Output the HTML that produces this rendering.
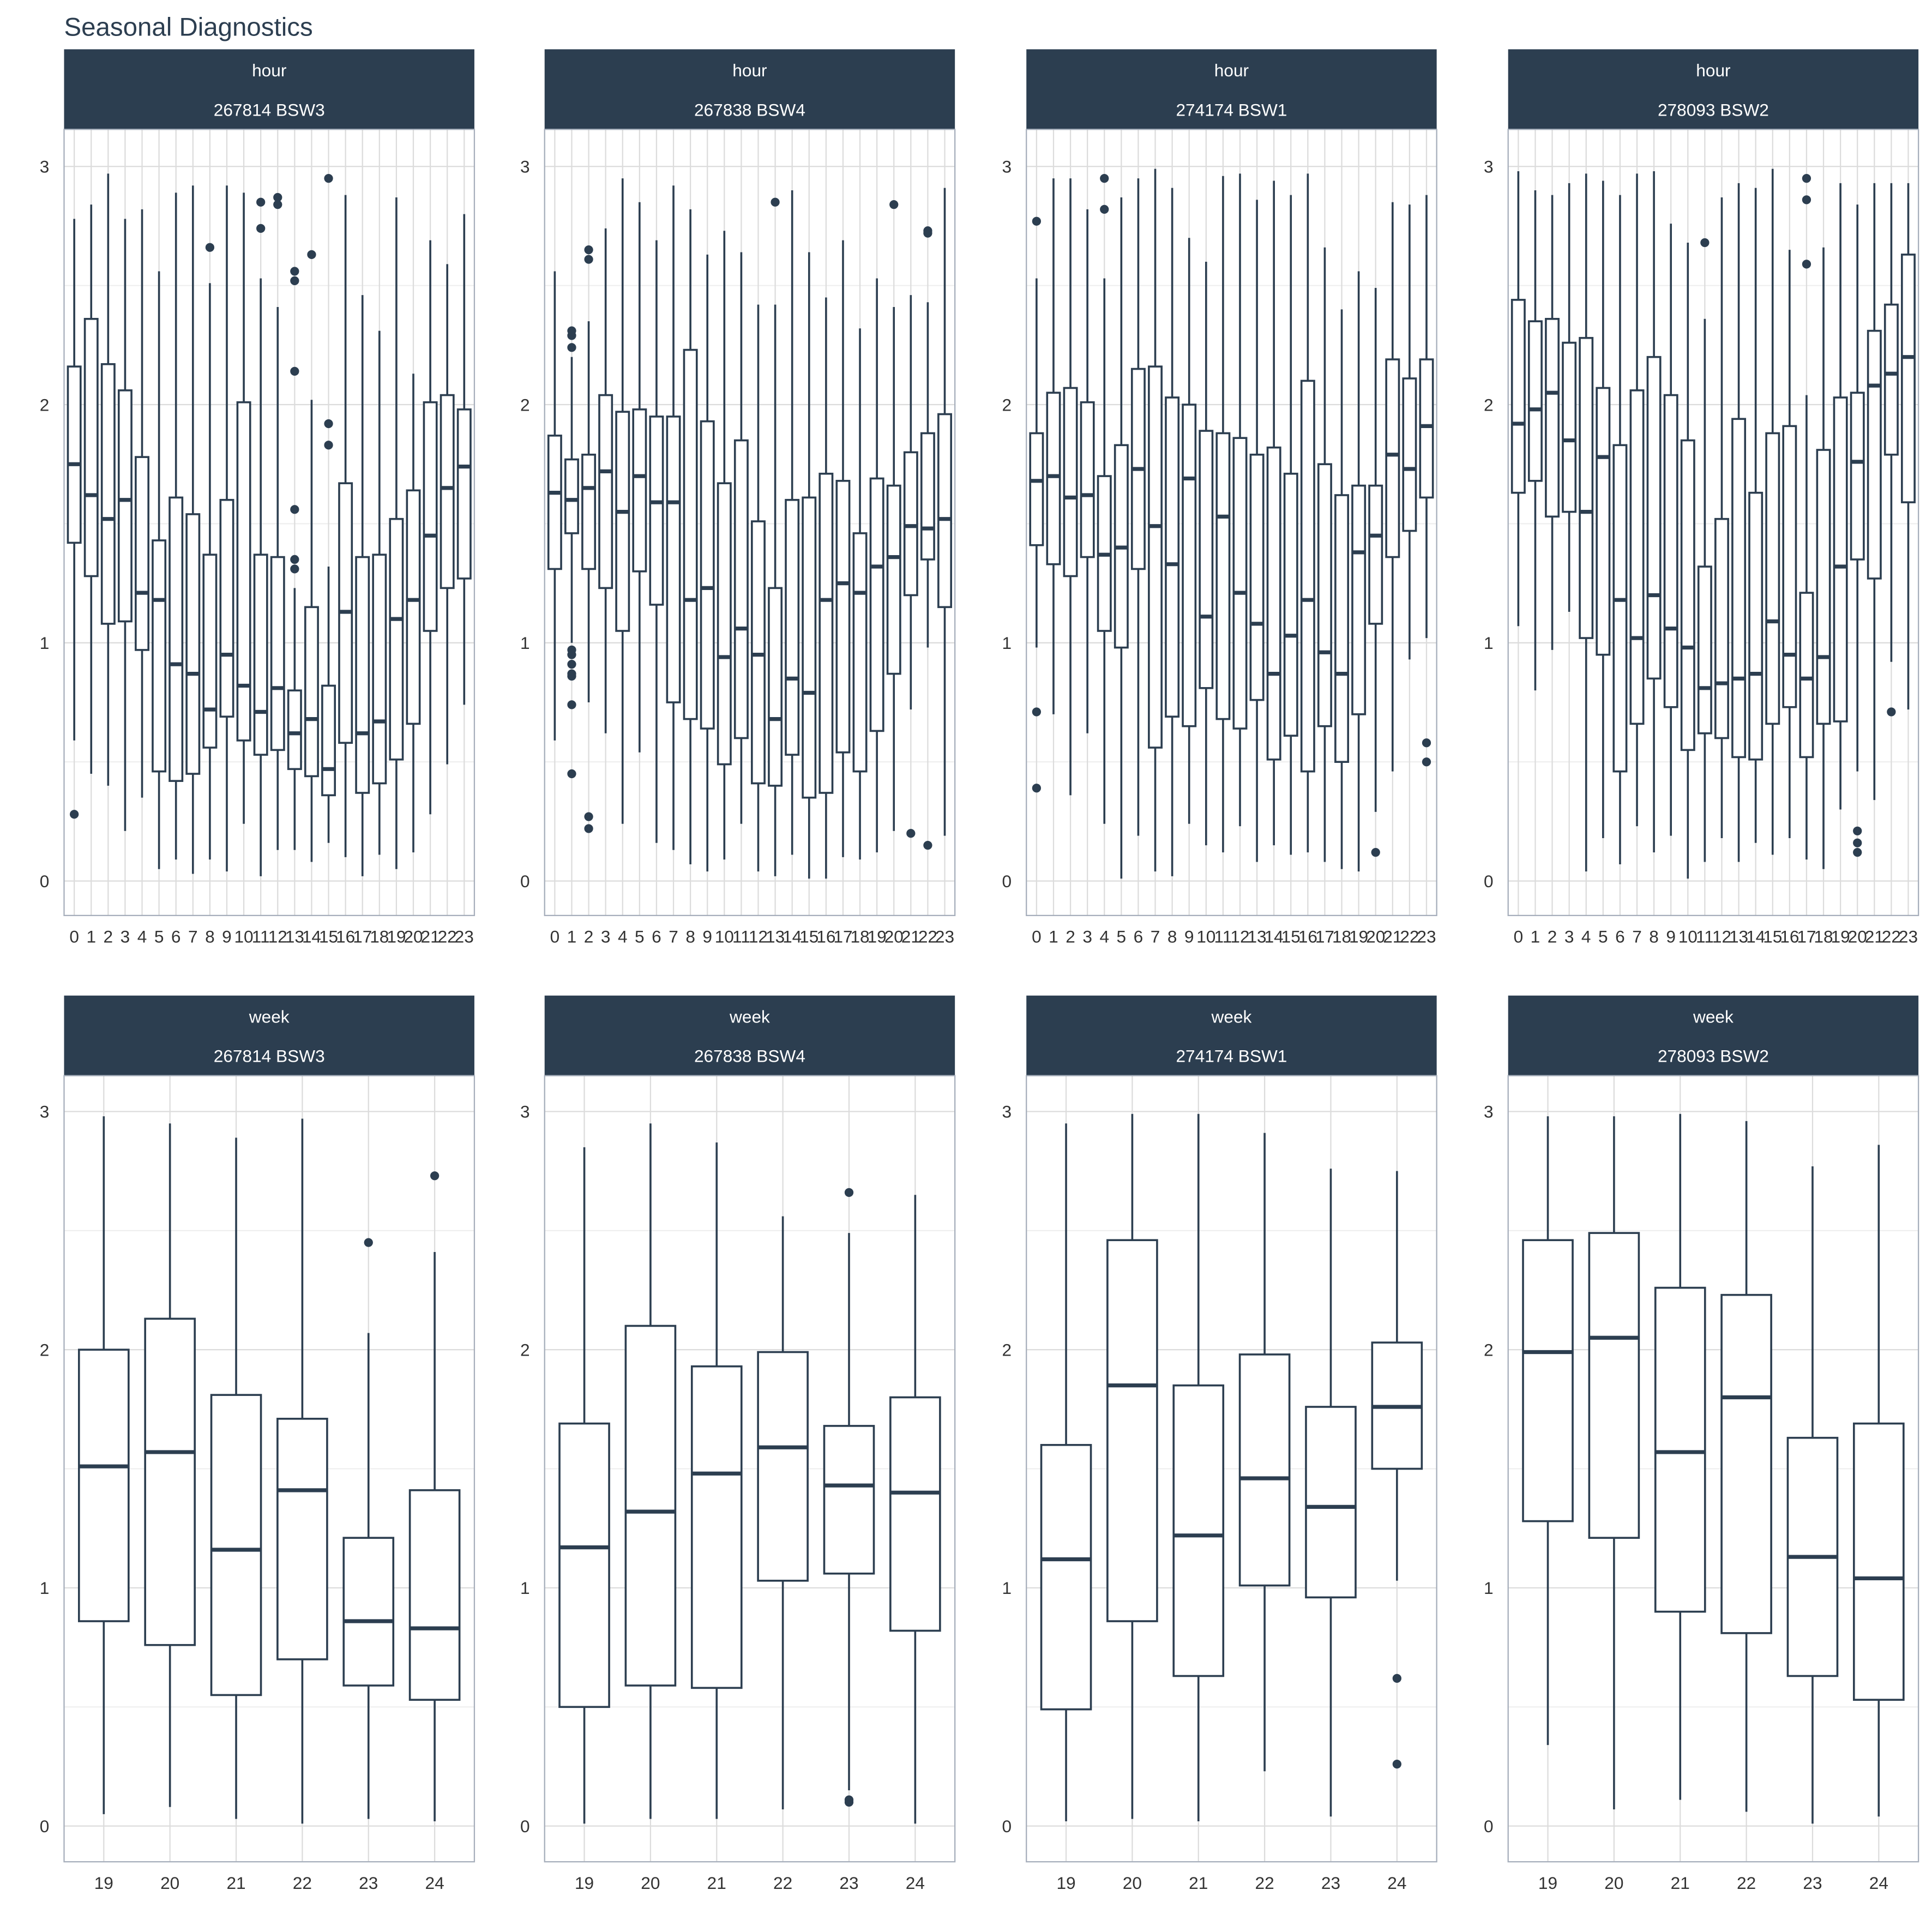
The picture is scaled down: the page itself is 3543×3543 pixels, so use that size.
<!DOCTYPE html>
<html><head><meta charset="utf-8"><style>
html,body{margin:0;padding:0;background:#fff;}
svg{display:block;font-family:"Liberation Sans",sans-serif;}
</style></head><body>
<svg id="chart" width="3543" height="3543" viewBox="0 0 1568 1568" xmlns="http://www.w3.org/2000/svg">
<text x="52" y="29" font-size="21" fill="#2c3e50">Seasonal Diagnostics</text>
</svg>
<script>
const panelTitles = ["267814 BSW3","267838 BSW4","274174 BSW1","278093 BSW2"];
const hourCats = ["0","1","2","3","4","5","6","7","8","9","10","11","12","13","14","15","16","17","18","19","20","21","22","23"];
const weekCats = ["19","20","21","22","23","24"];
const yTicks = [0,1,2,3];

const hourLo = [
[0.59,0.45,0.40,0.21,0.35,0.05,0.09,0.03,0.09,0.04,0.24,0.02,0.13,0.13,0.08,0.16,0.10,0.02,0.11,0.05,0.12,0.28,0.49,0.74],
[0.59,1.00,0.75,0.62,0.24,0.54,0.16,0.13,0.07,0.04,0.09,0.24,0.04,0.02,0.11,0.01,0.01,0.10,0.09,0.12,0.21,0.72,0.98,0.19],
[0.98,0.70,0.36,0.62,0.24,0.01,0.19,0.04,0.02,0.24,0.15,0.12,0.23,0.08,0.15,0.11,0.12,0.08,0.05,0.04,0.29,0.46,0.93,1.02],
[1.07,0.80,0.97,1.13,0.04,0.18,0.07,0.23,0.12,0.19,0.01,0.08,0.18,0.08,0.16,0.11,0.18,0.09,0.05,0.30,0.46,0.34,0.92,0.72]];
const hourQ1 = [
[1.42,1.28,1.08,1.09,0.97,0.46,0.42,0.45,0.56,0.69,0.59,0.53,0.55,0.47,0.44,0.36,0.58,0.37,0.41,0.51,0.66,1.05,1.23,1.27],
[1.31,1.46,1.31,1.23,1.05,1.30,1.16,0.75,0.68,0.64,0.49,0.60,0.41,0.40,0.53,0.35,0.37,0.54,0.46,0.63,0.87,1.20,1.35,1.15],
[1.41,1.33,1.28,1.36,1.05,0.98,1.31,0.56,0.69,0.65,0.81,0.68,0.64,0.76,0.51,0.61,0.46,0.65,0.50,0.70,1.08,1.36,1.47,1.61],
[1.63,1.68,1.53,1.55,1.02,0.95,0.46,0.66,0.85,0.73,0.55,0.62,0.60,0.52,0.51,0.66,0.73,0.52,0.66,0.67,1.35,1.27,1.79,1.59]];
const hourMed = [
[1.75,1.62,1.52,1.60,1.21,1.18,0.91,0.87,0.72,0.95,0.82,0.71,0.81,0.62,0.68,0.47,1.13,0.62,0.67,1.10,1.18,1.45,1.65,1.74],
[1.63,1.60,1.65,1.72,1.55,1.70,1.59,1.59,1.18,1.23,0.94,1.06,0.95,0.68,0.85,0.79,1.18,1.25,1.21,1.32,1.36,1.49,1.48,1.52],
[1.68,1.70,1.61,1.62,1.37,1.40,1.73,1.49,1.33,1.69,1.11,1.53,1.21,1.08,0.87,1.03,1.18,0.96,0.87,1.38,1.45,1.79,1.73,1.91],
[1.92,1.98,2.05,1.85,1.55,1.78,1.18,1.02,1.20,1.06,0.98,0.81,0.83,0.85,0.87,1.09,0.95,0.85,0.94,1.32,1.76,2.08,2.13,2.20]];
const hourQ3 = [
[2.16,2.36,2.17,2.06,1.78,1.43,1.61,1.54,1.37,1.60,2.01,1.37,1.36,0.80,1.15,0.82,1.67,1.36,1.37,1.52,1.64,2.01,2.04,1.98],
[1.87,1.77,1.79,2.04,1.97,1.98,1.95,1.95,2.23,1.93,1.67,1.85,1.51,1.23,1.60,1.61,1.71,1.68,1.46,1.69,1.66,1.80,1.88,1.96],
[1.88,2.05,2.07,2.01,1.70,1.83,2.15,2.16,2.03,2.00,1.89,1.88,1.86,1.79,1.82,1.71,2.10,1.75,1.62,1.66,1.66,2.19,2.11,2.19],
[2.44,2.35,2.36,2.26,2.28,2.07,1.83,2.06,2.20,2.04,1.85,1.32,1.52,1.94,1.63,1.88,1.91,1.21,1.81,2.03,2.05,2.31,2.42,2.63]];
const hourHi = [
[2.78,2.84,2.97,2.78,2.82,2.56,2.89,2.92,2.51,2.92,2.89,2.53,2.41,1.23,2.02,1.32,2.88,2.46,2.31,2.87,2.13,2.69,2.59,2.80],
[2.56,2.20,2.35,2.74,2.95,2.85,2.69,2.92,2.82,2.63,2.73,2.64,2.42,2.42,2.90,2.64,2.45,2.69,2.32,2.53,2.41,2.46,2.43,2.91],
[2.53,2.95,2.95,2.82,2.53,2.87,2.95,2.99,2.91,2.70,2.60,2.96,2.97,2.86,2.94,2.88,2.97,2.66,2.40,2.56,2.49,2.85,2.84,2.88],
[2.98,2.90,2.88,2.93,2.97,2.94,2.88,2.97,2.98,2.76,2.68,2.36,2.87,2.93,2.91,2.99,2.65,2.04,2.66,2.93,2.84,2.93,2.93,2.93]];
const hourOut = [
[[0,0.28],[8,2.66],[11,2.85],[11,2.74],[12,2.87],[12,2.84],[13,2.56],[13,2.52],[13,2.14],[13,1.56],[13,1.35],[13,1.31],[14,2.63],[15,2.95],[15,1.92],[15,1.83]],
[[1,2.31],[1,2.29],[1,2.24],[1,0.97],[1,0.95],[1,0.91],[1,0.87],[1,0.86],[1,0.74],[1,0.45],[2,2.65],[2,2.61],[2,0.27],[2,0.22],[13,2.85],[20,2.84],[21,0.20],[22,2.73],[22,2.72],[22,0.15]],
[[0,2.77],[0,0.71],[0,0.39],[4,2.95],[4,2.82],[20,0.12],[23,0.58],[23,0.50]],
[[11,2.68],[17,2.95],[17,2.86],[17,2.59],[20,0.21],[20,0.16],[20,0.12],[22,0.71]]];

const weekLo = [[0.05,0.08,0.03,0.01,0.03,0.02],[0.01,0.03,0.03,0.07,0.15,0.01],[0.02,0.03,0.02,0.23,0.04,1.03],[0.34,0.07,0.11,0.06,0.01,0.04]];
const weekQ1 = [[0.86,0.76,0.55,0.70,0.59,0.53],[0.50,0.59,0.58,1.03,1.06,0.82],[0.49,0.86,0.63,1.01,0.96,1.50],[1.28,1.21,0.90,0.81,0.63,0.53]];
const weekMed = [[1.51,1.57,1.16,1.41,0.86,0.83],[1.17,1.32,1.48,1.59,1.43,1.40],[1.12,1.85,1.22,1.46,1.34,1.76],[1.99,2.05,1.57,1.80,1.13,1.04]];
const weekQ3 = [[2.00,2.13,1.81,1.71,1.21,1.41],[1.69,2.10,1.93,1.99,1.68,1.80],[1.60,2.46,1.85,1.98,1.76,2.03],[2.46,2.49,2.26,2.23,1.63,1.69]];
const weekHi = [[2.98,2.95,2.89,2.97,2.07,2.41],[2.85,2.95,2.87,2.56,2.49,2.65],[2.95,2.99,2.99,2.91,2.76,2.75],[2.98,2.98,2.99,2.96,2.77,2.86]];
const weekOut = [[[4,2.45],[5,2.73]],[[4,2.66],[4,0.11],[4,0.10]],[[5,0.62],[5,0.26]],[]];

const NS = "http://www.w3.org/2000/svg";
const svg = document.getElementById('chart');
const COL = "#2c3e50";
const panelX = [52,442,833,1224];
const panelW = 333;

function mk(tag, attrs, parent){
  const e = document.createElementNS(NS, tag);
  for (const k in attrs) e.setAttribute(k, attrs[k]);
  (parent||svg).appendChild(e);
  return e;
}

function drawPanel(pi, row){
  const x0 = panelX[pi];
  const stripTop = row===0 ? 40 : 808;
  const top = stripTop + 65, bot = top + 638;
  const y0 = row===0 ? 715 : 1482;
  const yScale = v => y0 - v*193.3;
  const cats = row===0 ? hourCats : weekCats;
  const step = panelW / (cats.length - 1 + 1.2);
  const xScale = i => x0 + step*(0.6 + i);
  const g = mk('g', {});
  
  
  // strip
  const st = mk('rect', {x:x0, y:stripTop, width:panelW, height:65, fill:COL}, g);
  
  
  const t1 = mk('text', {x:x0+panelW/2, y:stripTop+22, 'font-size':14, fill:'#fff', 'text-anchor':'middle'}, g);
  t1.textContent = row===0 ? 'hour' : 'week';
  
  
  const t2 = mk('text', {x:x0+panelW/2, y:stripTop+54, 'font-size':14, fill:'#fff', 'text-anchor':'middle'}, g);
  t2.textContent = panelTitles[pi];
  
  
  // grid
  for (let v=0.5; v<3.2; v+=1){
    const l = mk('line', {x1:x0, x2:x0+panelW, y1:yScale(v), y2:yScale(v), stroke:'#ececec', 'stroke-width':0.8}, g);
    
    
  }
  yTicks.forEach(v=>{
    const l = mk('line', {x1:x0, x2:x0+panelW, y1:yScale(v), y2:yScale(v), stroke:'#dcdcdc', 'stroke-width':1}, g);
    
    
    const t = mk('text', {x:x0-12, y:yScale(v)+5, 'font-size':14, fill:'#333', 'text-anchor':'end'}, g);
    t.textContent = v;
    
    
  });
  cats.forEach((c,i)=>{
    const l = mk('line', {x1:xScale(i), x2:xScale(i), y1:top, y2:bot, stroke:'#dcdcdc', 'stroke-width':1}, g);
    
    
    const t = mk('text', {x:xScale(i), y:bot+22, 'font-size':14, fill:'#333', 'text-anchor':'middle'}, g);
    t.textContent = c;
    
    
  });
  const border = mk('rect', {x:x0, y:top, width:panelW, height:638, fill:'none', stroke:'#a6aebb', 'stroke-width':1}, g);
  
  
  // boxes
  const lo = row===0 ? hourLo[pi] : weekLo[pi];
  const q1 = row===0 ? hourQ1[pi] : weekQ1[pi];
  const md = row===0 ? hourMed[pi] : weekMed[pi];
  const q3 = row===0 ? hourQ3[pi] : weekQ3[pi];
  const hi = row===0 ? hourHi[pi] : weekHi[pi];
  const out = row===0 ? hourOut[pi] : weekOut[pi];
  const bw = step*0.75;
  cats.forEach((c,i)=>{
    const cx = xScale(i);
    const bg = mk('g', {}, g);
    
    
    mk('line', {x1:cx, x2:cx, y1:yScale(hi[i]), y2:yScale(q3[i]), stroke:COL, 'stroke-width':1.6}, bg);
    mk('line', {x1:cx, x2:cx, y1:yScale(q1[i]), y2:yScale(lo[i]), stroke:COL, 'stroke-width':1.6}, bg);
    mk('rect', {x:cx-bw/2, y:yScale(q3[i]), width:bw, height:yScale(q1[i])-yScale(q3[i]), fill:'#fff', stroke:COL, 'stroke-width':1.6}, bg);
    mk('line', {x1:cx-bw/2, x2:cx+bw/2, y1:yScale(md[i]), y2:yScale(md[i]), stroke:COL, 'stroke-width':3.2}, bg);
  });
  out.forEach(o=>{
    const p = mk('circle', {cx:xScale(o[0]), cy:yScale(o[1]), r:3.6, fill:COL}, g);
    
    
  });
}
for (let p=0;p<4;p++){ drawPanel(p,0); drawPanel(p,1); }
</script>
</body></html>
